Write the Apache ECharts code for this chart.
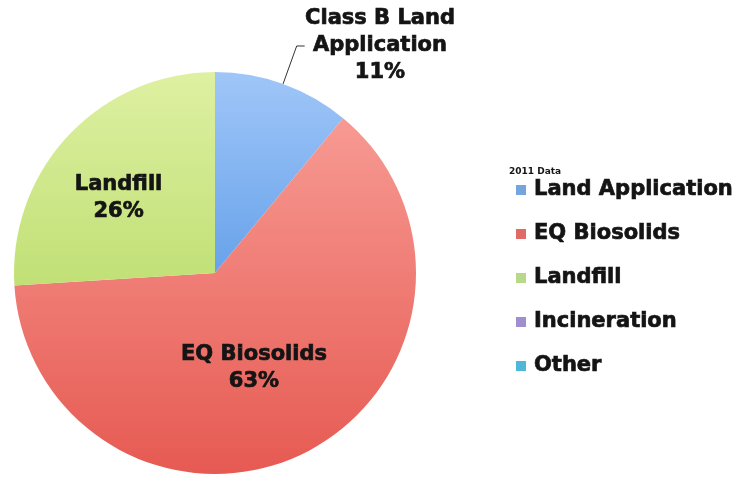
<!DOCTYPE html>
<html>
<head>
<meta charset="utf-8">
<script src="https://cdn.jsdelivr.net/npm/echarts@6/dist/echarts.min.js"></script>
<style>
  html, body { margin: 0; padding: 0; background: #ffffff; }
  #chart { width: 735px; height: 479px; }
</style>
</head>
<body>
<div id="chart"></div>
<script>
// Biosolids end use, 2011 data (percent of total)
const categories = ['Land Application', 'EQ Biosolids', 'Landfill', 'Incineration', 'Other'];
const shares = [11, 63, 26, 0, 0];
const sliceLabels = ['Class B Land\nApplication', 'EQ Biosolids', 'Landfill', '', ''];
const legendTitle = '2011 Data';

const FONT = '"DejaVu Sans", sans-serif';
const INK = '#141414';
const PIE_TOP = 72, PIE_BOTTOM = 474;

// vertical shading shared across the whole pie
function shade(top, bottom) {
  return new echarts.graphic.LinearGradient(0, PIE_TOP, 0, PIE_BOTTOM, [
    { offset: 0, color: top },
    { offset: 1, color: bottom }
  ], true);
}

const sliceFills = [
  shade('#a0c6f8', '#2f7fdc'),
  shade('#f9a29b', '#e65a52'),
  shade('#def0a2', '#a6d24e'),
  '#a58fd0',
  '#4fbcd8'
];
const legendFills = ['#76a4dd', '#e06a66', '#b9d98a', '#a08fcf', '#4fb8d8'];

const labelOffsets = [[0, 0], [-8, 3], [-21, -4], [0, 0], [0, 0]];

const pieData = categories.map((name, i) => {
  const item = {
    name: name,
    value: shares[i],
    itemStyle: { color: sliceFills[i] }
  };
  if (shares[i] === 0) {
    item.label = { show: false };
    item.labelLine = { show: false };
  } else if (i === 0) {
    item.label = { position: 'outside' };
    item.labelLine = { show: true };
  } else {
    item.label = { position: 'inside', offset: labelOffsets[i] };
    item.labelLine = { show: false };
  }
  return item;
});

const chart = echarts.init(document.getElementById('chart'), null, { renderer: 'canvas' });

chart.setOption({
  animation: false,
  backgroundColor: '#ffffff',
  title: {
    text: legendTitle,
    left: 504,
    top: 162,
    textStyle: { fontFamily: FONT, fontSize: 9, fontWeight: 'bold', color: INK }
  },
  legend: {
    orient: 'vertical',
    left: 511,
    top: 174,
    itemWidth: 10,
    itemHeight: 10,
    itemGap: 22,
    icon: 'rect',
    selectedMode: false,
    data: categories.map((name, i) => ({ name: name, itemStyle: { color: legendFills[i] } })),
    textStyle: {
      fontFamily: FONT, fontSize: 21, fontWeight: 'bold', color: INK,
      textBorderColor: INK, textBorderWidth: 0.7,
      lineHeight: 22, padding: [0, 0, 0, 3]
    }
  },
  series: [{
    type: 'pie',
    center: [215, 273],
    radius: 201,
    startAngle: 90,
    clockwise: true,
    stillShowZeroSum: false,
    avoidLabelOverlap: false,
    emphasis: { disabled: true },
    data: pieData,
    label: {
      fontFamily: FONT,
      fontSize: 21,
      fontWeight: 'bold',
      color: INK,
      textBorderColor: INK,
      textBorderWidth: 0.7,
      lineHeight: 27,
      align: 'center',
      formatter: p => sliceLabels[p.dataIndex] + '\n' + p.value + '%'
    },
    labelLine: {
      length: 24,
      length2: 8,
      lineStyle: { color: '#333333', width: 1 }
    },
    labelLayout: p => {
      if (p.dataIndex === 0) {
        return { x: 380, y: 46, align: 'center', verticalAlign: 'middle' };
      }
      return {};
    }
  }]
});
</script>
</body>
</html>
